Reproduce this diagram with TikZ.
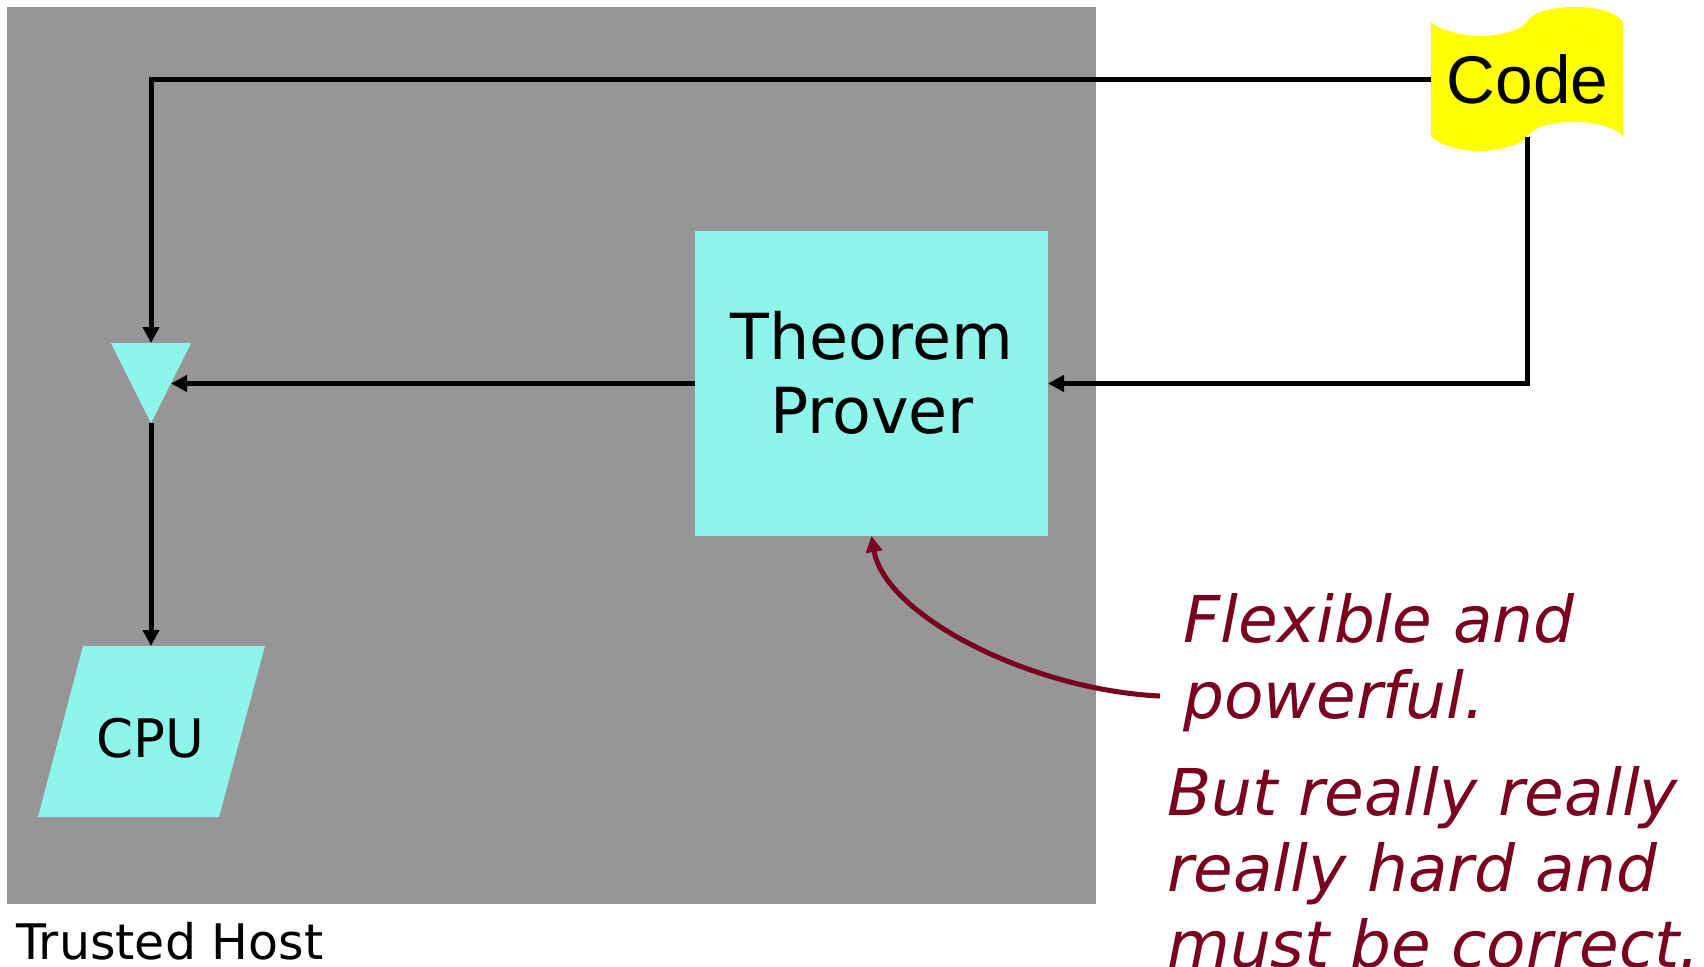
\documentclass[tikz,border=0pt]{standalone}
\usepackage{fontspec}
\setmainfont{DejaVu Sans}
\newfontfamily\codefont{Liberation Sans}
\usetikzlibrary{arrows.meta}
\definecolor{hostgray}{HTML}{969696}
\definecolor{aqua}{HTML}{8EF5EA}
\definecolor{wine}{HTML}{7A0020}
\definecolor{codeyellow}{rgb}{1,1,0}
\tikzset{
  x=1pt,y=-1pt,
  flow/.style={line width=5pt,black,-{Triangle[length=16pt,width=16pt]}},
  wineflow/.style={line width=5pt,wine,-{Triangle[length=16pt,width=16pt]}},
  note/.style={wine,anchor=base west,inner sep=0pt,font=\fontsize{64.5}{76}\selectfont\itshape},
  label/.style={inner sep=0pt,align=center,black}
}
\begin{document}
\begin{tikzpicture}
\useasboundingbox (0,0) rectangle (1704,966);
\clip (0,0) rectangle (1704,966);
\fill[hostgray] (7,7) rectangle (1096,904);
\node[label,anchor=base west,font=\fontsize{49}{50}\selectfont] (host) at (16,959) {Trusted Host};
\fill[aqua] (695,231) rectangle (1048,536);
\node[label,font=\fontsize{63.5}{74}\selectfont] (tp) at (872,373) {Theorem\\Prover};
\coordinate (tpW) at (695,383.5);
\coordinate (tpE) at (1048,383.5);
\coordinate (tpS) at (871.5,536);
\fill[aqua] (111,343) -- (191,343) -- (151,423) -- cycle;
\coordinate (triN) at (151,343);
\coordinate (triS) at (151,423);
\coordinate (triE) at (171,383.5);
\fill[aqua] (83,646) -- (265,646) -- (219,817) -- (38,817) -- cycle;
\node[label,font=\fontsize{53}{56}\selectfont] (cpu) at (150,738) {CPU};
\coordinate (cpuN) at (151,646);
\fill[codeyellow] (1431,22) .. controls (1440,32) and (1470,36) .. (1479,36)
  .. controls (1500,36) and (1522,30) .. (1527,22)
  .. controls (1535,9) and (1560,7) .. (1575,7)
  .. controls (1595,7) and (1615,11) .. (1623,22)
  -- (1623,136)
  .. controls (1612,125) and (1590,122) .. (1575,122)
  .. controls (1555,122) and (1535,125) .. (1527,137)
  .. controls (1520,146) and (1495,151) .. (1479,151)
  .. controls (1460,151) and (1440,146) .. (1431,136) -- cycle;
\node[label,font=\fontsize{67.5}{70}\selectfont\codefont] (code) at (1527.5,79) {Code};
\coordinate (codeW) at (1431,79);
\coordinate (codeS) at (1527,137);
\coordinate (bendA) at (151,79);
\coordinate (bendB) at (1527,383.5);
\draw[flow] (codeW) -- (bendA) -- (triN);
\draw[flow] (codeS) -- (bendB) -- (tpE);
\draw[flow] (tpW) -- (triE);
\draw[flow] (triS) -- (cpuN);
\coordinate (noteEnd) at (1160,696);
\draw[wineflow] (noteEnd) .. controls (1030,690) and (885,615) .. (tpS);
\node[note] (n1) at (1183,642) {Flexible and};
\node[note] (n2) at (1183,718) {powerful.};
\node[note] (n3) at (1167,815) {But really really};
\node[note] (n4) at (1167,891) {really hard and};
\node[note] (n5) at (1167,967) {must be correct.};
\end{tikzpicture}
\end{document}
